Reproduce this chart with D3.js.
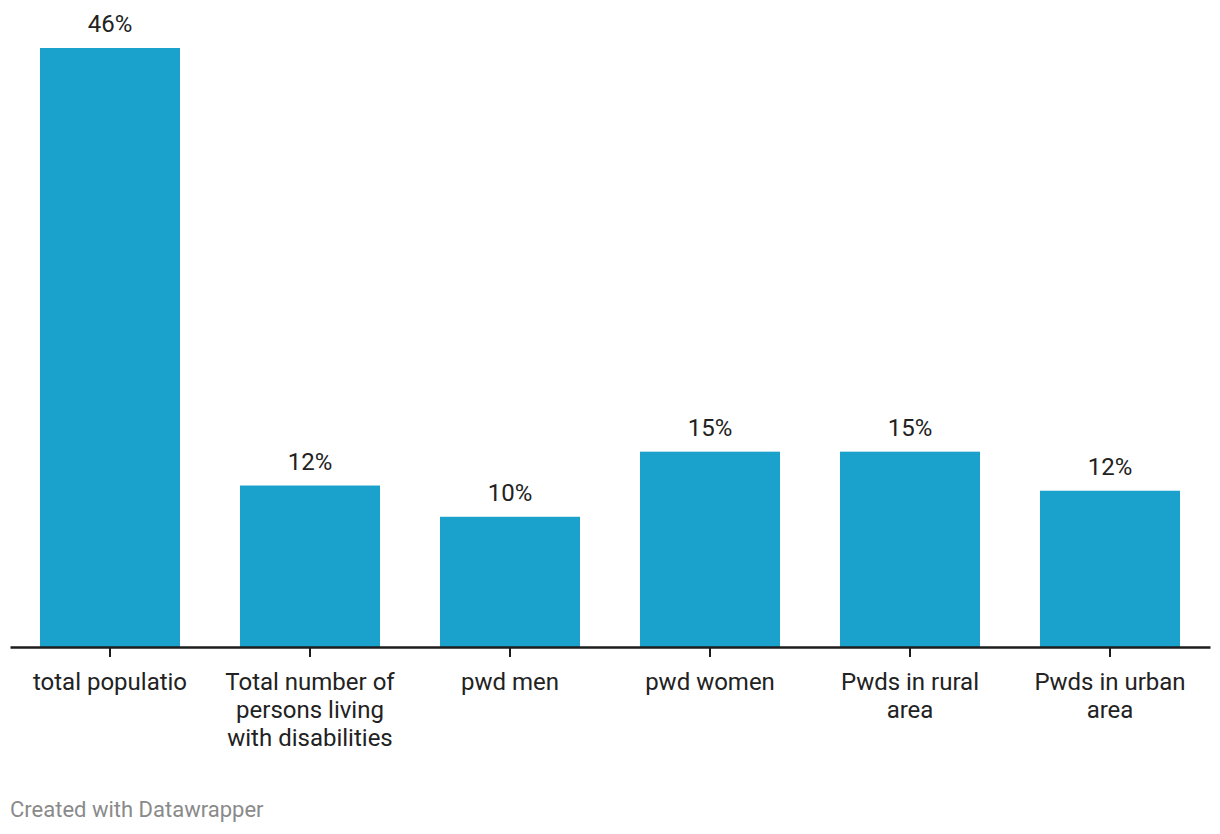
<!DOCTYPE html>
<html>
<head>
<meta charset="utf-8">
<script src="https://cdn.jsdelivr.net/npm/d3@7"></script>
<style>
  html, body { margin: 0; padding: 0; background: #fff; }
  svg { display: block; font-family: Roboto, "Noto Sans", sans-serif; }
</style>
</head>
<body>
<svg id="chart" width="1220" height="834"></svg>
<script>
const categories = ["total populatio", "Total number of persons living with disabilities", "pwd men", "pwd women", "Pwds in rural area", "Pwds in urban area"];
const values = [46, 12.4, 10, 15, 15, 12];
const valueLabels = ["46%", "12%", "10%", "15%", "15%", "12%"];
const footer = "Created with Datawrapper";

const svg = d3.select("#chart");
const baseline = 647;

const x = d3.scaleBand()
  .domain(categories)
  .range([10, 1210])
  .paddingInner(0.3)
  .paddingOuter(0.15);

const y = d3.scaleLinear()
  .domain([0, 46])
  .range([baseline, 48]);

const data = categories.map((c, i) => ({ c, v: values[i], label: valueLabels[i] }));

svg.append("g").selectAll("rect")
  .data(data)
  .join("rect")
  .attr("x", d => x(d.c))
  .attr("y", d => y(d.v))
  .attr("width", x.bandwidth())
  .attr("height", d => y(0) - y(d.v))
  .attr("fill", "#1aa1cc");

svg.append("g").selectAll("text")
  .data(data)
  .join("text")
  .attr("x", d => x(d.c) + x.bandwidth() / 2)
  .attr("y", d => y(d.v) - 16)
  .attr("text-anchor", "middle")
  .attr("font-size", 24)
  .attr("fill", "#222")
  .text(d => d.label);

// axis
const axis = d3.axisBottom(x).tickSizeInner(10).tickSizeOuter(0).tickPadding(0).tickFormat("");
const ag = svg.append("g").attr("transform", `translate(0,${baseline})`).call(axis);
ag.select(".domain").attr("stroke", "#1d1d1d").attr("stroke-width", 2.5);
ag.selectAll(".tick line").attr("stroke", "#1d1d1d").attr("stroke-width", 2);

// wrapped category labels
function wrapLines(text, maxWidth, measurer) {
  const words = text.split(" ");
  const lines = [];
  let line = "";
  words.forEach(w => {
    const test = line ? line + " " + w : w;
    measurer.text(test);
    if (line && measurer.node().getComputedTextLength() > maxWidth) {
      lines.push(line);
      line = w;
    } else {
      line = test;
    }
  });
  if (line) lines.push(line);
  return lines;
}

const measurer = svg.append("text").attr("font-size", 24).attr("visibility", "hidden");
const lg = svg.append("g");
categories.forEach(c => {
  const lines = wrapLines(c, 180, measurer);
  const t = lg.append("text")
    .attr("x", x(c) + x.bandwidth() / 2)
    .attr("y", 690)
    .attr("text-anchor", "middle")
    .attr("font-size", 24)
    .attr("fill", "#222");
  lines.forEach((l, i) => {
    t.append("tspan").attr("x", x(c) + x.bandwidth() / 2).attr("dy", i === 0 ? 0 : 28).text(l);
  });
});
measurer.remove();

svg.append("text")
  .attr("x", 10)
  .attr("y", 817)
  .attr("font-size", 22)
  .attr("fill", "#8a8a8a")
  .text(footer);
</script>
</body>
</html>
